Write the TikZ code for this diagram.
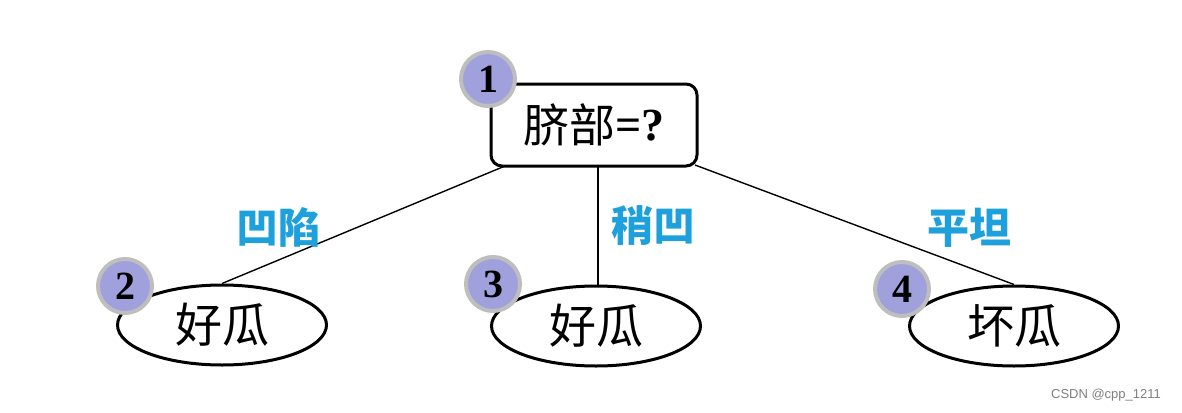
\documentclass[tikz,border=0pt]{standalone}
\usepackage{fontspec}
\setmainfont{Liberation Serif}
\newfontfamily\cjk{Noto Sans CJK SC}
\newfontfamily\wm{Liberation Sans}
\usetikzlibrary{shapes.geometric}
\definecolor{lav}{RGB}{160,160,220}
\definecolor{ring}{RGB}{190,190,190}
\definecolor{lblue}{RGB}{30,160,220}
\tikzset{
  rootbox/.style={draw=black,line width=3pt,rounded corners=11pt,minimum width=206pt,minimum height=82pt,inner sep=0pt,font=\fontsize{46}{46}\selectfont},
  leaf/.style={draw=black,ellipse,line width=3pt,minimum width=209pt,minimum height=80pt,inner sep=0pt,font=\cjk\fontsize{47}{47}\selectfont},
  badge/.style={circle,fill=lav,draw=ring,line width=4pt,minimum size=54pt,inner sep=0pt,font=\bfseries\fontsize{40}{40}\selectfont},
  edge/.style={line width=1.4pt,draw=black},
  elabel/.style={text=lblue,font=\cjk\bfseries\fontsize{42}{42}\selectfont}
}
\begin{document}
\begin{tikzpicture}[x=1pt,y=-1pt]
\useasboundingbox[fill=white] (0,0) rectangle (1182,412);
\node[rootbox] (root) at (594,125) {\raisebox{-2pt}{\cjk 脐部}\textbf{=?}};
\node[leaf] (l2) at (222,325) {好瓜};
\node[leaf] (l3) at (596,326) {好瓜};
\node[leaf] (l4) at (1014,326) {坏瓜};
\coordinate (r1) at (505,166);
\coordinate (r2) at (598,166);
\coordinate (r3) at (695,165);
\draw[edge] (r1) -- (l2.north);
\draw[edge] (r2) -- (r2 |- l3.north);
\draw[edge] (r3) -- (l4.north);
\node[badge] (b1) at (488,79) {1};
\node[badge] (b2) at (125,286) {2};
\node[badge] (b3) at (493,284) {3};
\node[badge] (b4) at (902,289) {4};
\node[elabel] (e1) at (278,227) {凹陷};
\node[elabel] (e2) at (653,226) {稍凹};
\node[elabel] (e3) at (969,228) {平坦};
\node[text=gray,font=\wm\fontsize{13}{13}\selectfont] (wm) at (1106,395) {CSDN @cpp\_1211};
\end{tikzpicture}
\end{document}
